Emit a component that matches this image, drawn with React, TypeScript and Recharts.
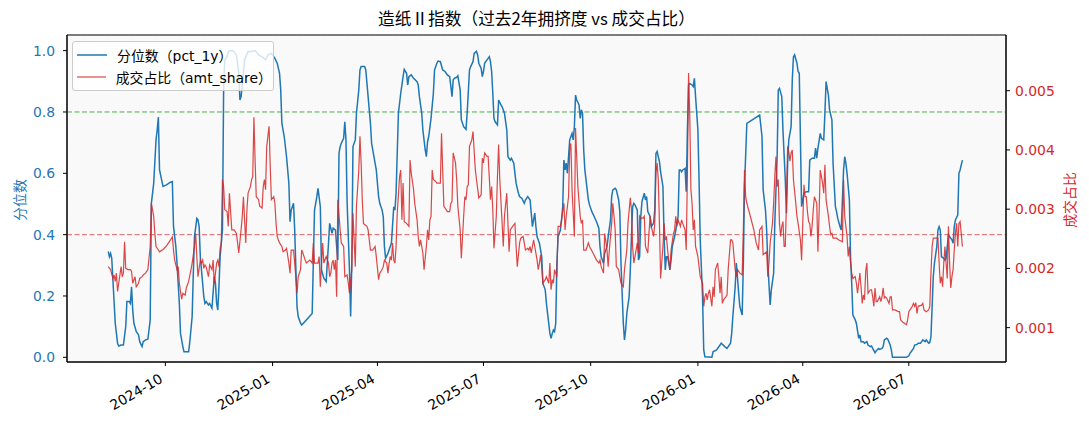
import React from 'react';
import {
  ComposedChart,
  Line,
  XAxis,
  YAxis,
  CartesianGrid,
  ReferenceLine,
  ReferenceArea,
  Legend,
} from 'recharts';

const START_DATE = '2024-08-13';
const DAY_MS = 86400000;
const startMs = Date.parse(START_DATE);

const xRangeDays = [-35.4, 770.4];
const monthTicks = [
  '2024-10-01', '2025-01-01', '2025-04-01', '2025-07-01',
  '2025-10-01', '2026-01-01', '2026-04-01', '2026-07-01',
];
const pctTicks = [0, 0.2, 0.4, 0.6, 0.8, 1.0];
const shareTicks = [0.001, 0.002, 0.003, 0.004, 0.005];
const pctRange = [-0.0153, 1.051];
const shareRange = [0.00042, 0.00594];
const crowdedLevel = 0.8;
const quietLevel = 0.4;

// [days since START_DATE, pct_1y]
const pct1y: [number, number][] = [
  [0, .345], [1, .328], [2, .339], [3, .323], [4, .252], [6, .111], [8, .046], [9, .037], [11, .04], [13, .04],
  [15, .1], [16, .182], [18, .182], [19, .176], [20, .23], [21, .154], [22, .111], [24, .084], [26, .073], [27, .051],
  [29, .035], [30, .051], [32, .057], [34, .059], [36, .122], [37, .502], [39, .567], [41, .709], [42, .741], [43, .783],
  [44, .611], [47, .557], [50, .562], [53, .57], [55, .573], [56, .426], [58, .361], [59, .307], [61, .176], [62, .078],
  [64, .035], [65, .018], [69, .018], [70, .051], [72, .133], [73, .274], [74, .393], [76, .453], [77, .448], [78, .426],
  [79, .328], [82, .198], [83, .176], [84, .182], [86, .171], [87, .176], [89, .16], [91, .263], [92, .241], [93, .176],
  [94, .154], [95, .23], [96, .328], [98, .415], [99, .872], [100, .97], [102, .98], [103, .997], [104, 1.0], [107, 1.0],
  [110, .986], [112, .926], [113, .839], [114, .85], [116, .926], [117, .97], [120, .997], [123, .997], [126, 1.0], [129, .986],
  [132, .98], [135, .97], [137, .986], [140, .991], [143, .975], [145, .959], [147, .926], [148, .872], [149, .763], [151, .72],
  [153, .654], [155, .567], [156, .442], [157, .48], [159, .502], [160, .415], [162, .165], [163, .133], [165, .111], [166, .105],
  [170, .122], [175, .143], [177, .48], [179, .524], [180, .551], [182, .491], [183, .285], [185, .258], [187, .247], [189, .372],
  [190, .437], [192, .404], [193, .421], [195, .415], [196, .361], [197, .317], [198, .665], [199, .687], [200, .698], [202, .714],
  [203, .768], [204, .709], [205, .502], [207, .285], [208, .133], [209, .307], [210, .687], [212, .709], [213, .796], [215, .872],
  [216, .937], [217, .948], [220, .948], [221, .937], [223, .85], [225, .763], [226, .698], [228, .654], [230, .611], [232, .524],
  [233, .502], [235, .48], [236, .459], [237, .361], [238, .323], [240, .339], [242, .361], [243, .372], [245, .491], [246, .48],
  [247, .535], [249, .796], [251, .861], [253, .915], [254, .939], [256, .926], [257, .888], [258, .915], [260, .921], [262, .91],
  [265, .899], [266, .888], [267, .85], [269, .796], [270, .741], [272, .676], [273, .654], [274, .703], [275, .72], [277, .779],
  [279, .861], [280, .937], [282, .959], [283, .966], [285, .964], [287, .937], [289, .932], [291, .921], [293, .915], [294, .883],
  [295, .85], [296, .904], [297, .91], [299, .913], [300, .918], [302, .872], [303, .774], [305, .752], [307, .743], [308, .796],
  [310, .937], [311, .948], [313, .964], [314, .991], [316, .998], [317, .986], [318, .959], [320, .942], [321, .915], [322, .932],
  [323, .959], [325, .97], [327, .98], [328, .964], [329, .932], [330, .861], [331, .779], [332, .768], [334, .758], [335, .839],
  [337, .823], [338, .817], [340, .796], [342, .741], [343, .654], [345, .643], [346, .649], [348, .633], [349, .6], [350, .567],
  [352, .535], [353, .524], [355, .518], [357, .502], [358, .513], [360, .524], [362, .513], [363, .47], [364, .426], [366, .47],
  [367, .426], [368, .393], [370, .372], [372, .328], [373, .241], [375, .22], [376, .176], [378, .111], [379, .078], [380, .062],
  [381, .078], [382, .089], [383, .084], [384, .111], [385, .307], [386, .393], [388, .415], [389, .448], [390, .491], [391, .643],
  [392, .611], [393, .633], [394, .6], [395, .654], [396, .709], [398, .73], [399, .709], [400, .752], [401, .855], [402, .839],
  [404, .823], [405, .779], [406, .807], [407, .796], [408, .676], [409, .611], [411, .546], [412, .513], [413, .497], [415, .475],
  [417, .459], [419, .442], [421, .421], [422, .361], [423, .328], [425, .307], [426, .339], [428, .361], [429, .393], [431, .448],
  [432, .524], [433, .546], [435, .551], [436, .546], [438, .513], [439, .475], [440, .307], [442, .111], [443, .057], [444, .089],
  [445, .143], [447, .198], [448, .285], [449, .393], [450, .491], [451, .502], [452, .497], [454, .48], [455, .317], [456, .328],
  [457, .459], [458, .508], [460, .535], [461, .513], [462, .524], [463, .475], [465, .459], [466, .426], [468, .437], [469, .48],
  [470, .665], [471, .671], [473, .638], [474, .605], [476, .557], [477, .393], [478, .285], [479, .328], [480, .328], [481, .307],
  [482, .285], [483, .317], [484, .361], [486, .393], [487, .415], [489, .459], [490, .611], [491, .611], [492, .605], [493, .611],
  [495, .616], [496, .54], [497, .741], [498, .888], [499, .893], [501, .888], [502, .883], [503, .91], [504, .85], [506, .741],
  [507, .578], [508, .383], [510, .198], [511, .024], [512, .002], [518, 0], [519, .018], [522, .024], [525, .04], [526, .046],
  [529, .035], [531, .029], [534, .046], [535, .078], [536, .133], [538, .23], [539, .307], [541, .209], [542, .165], [544, .138],
  [545, .307], [546, .557], [548, .763], [559, .79], [561, .72], [562, .546], [564, .48], [565, .415], [566, .307], [568, .171],
  [569, .22], [571, .274], [572, .437], [574, .654], [575, .872], [576, .877], [578, .85], [579, .741], [581, .578], [582, .47],
  [583, .633], [584, .709], [586, .752], [587, .904], [588, .98], [589, .986], [591, .959], [592, .932], [593, .926], [594, .709],
  [595, .491], [596, .513], [597, .535], [599, .54], [601, .54], [602, .643], [604, .649], [606, .649], [607, .682], [608, .649],
  [609, .682], [611, .73], [612, .714], [614, .709], [615, .796], [616, .899], [618, .855], [619, .807], [621, .774], [622, .633],
  [624, .491], [625, .475], [626, .453], [628, .426], [629, .415], [631, .611], [632, .654], [633, .633], [634, .6], [636, .513],
  [637, .328], [638, .241], [639, .138], [641, .122], [642, .111], [644, .062], [645, .073], [646, .051], [648, .051], [649, .046],
  [651, .051], [652, .04], [654, .035], [655, .037], [656, .029], [658, .015], [659, .021], [661, .029], [662, .026], [664, .029],
  [665, .035], [666, .057], [668, .062], [669, .059], [671, .04], [672, .024], [673, 0], [685, 0], [687, .005], [688, .013],
  [689, .018], [691, .029], [692, .04], [694, .042], [695, .046], [697, .046], [698, .051], [699, .057], [701, .051], [702, .057],
  [704, .046], [705, .048], [706, .067], [707, .165], [708, .263], [709, .307], [711, .361], [712, .415], [713, .426], [714, .415],
  [715, .328], [717, .323], [718, .317], [719, .323], [721, .399], [722, .393], [724, .383], [725, .372], [726, .426], [727, .448],
  [729, .464], [730, .6], [731, .611], [732, .627], [733, .643],
];

// [days since START_DATE, amt_share]
const amtShare: [number, number][] = [
  [0, .00203], [2, .00198], [4, .00183], [5, .00189], [6, .00178], [7, .00192], [8, .00161], [9, .00175], [11, .00203], [12, .00186],
  [13, .00192], [14, .00245], [15, .002], [17, .00198], [19, .00198], [20, .00195], [21, .00175], [23, .00186], [24, .00169], [26, .00175],
  [27, .00183], [29, .00186], [30, .00189], [32, .00192], [34, .00198], [36, .00237], [37, .0031], [39, .00288], [40, .00259], [41, .00237],
  [43, .00231], [44, .00228], [47, .00232], [50, .00238], [53, .00247], [55, .00253], [56, .00231], [57, .00214], [59, .00198], [60, .00203],
  [61, .00175], [63, .00148], [64, .00158], [66, .00155], [67, .00167], [69, .00178], [71, .00198], [72, .00209], [74, .00237], [75, .00259],
  [76, .0022], [77, .00186], [79, .00214], [80, .00209], [81, .00214], [82, .002], [83, .00206], [84, .00203], [86, .00186], [87, .00206],
  [89, .00198], [90, .00214], [91, .00175], [93, .00209], [94, .00214], [95, .00203], [96, .00234], [97, .00243], [98, .0035], [99, .00338],
  [100, .00299], [102, .00296], [103, .00271], [104, .00327], [106, .00265], [108, .00265], [110, .00259], [111, .00243], [112, .00226], [114, .00265],
  [115, .00288], [116, .00321], [118, .00243], [119, .00299], [120, .00327], [122, .00338], [123, .0035], [124, .00355], [125, .00455], [126, .00383],
  [127, .00321], [129, .00316], [130, .00305], [132, .00302], [133, .00338], [134, .0035], [135, .00333], [136, .00406], [137, .00423], [138, .0044],
  [139, .00372], [140, .00316], [142, .00321], [143, .0031], [144, .00276], [145, .00254], [146, .00248], [147, .00243], [149, .00237], [150, .00228],
  [152, .00231], [153, .00234], [155, .00209], [156, .00192], [157, .00231], [159, .00231], [160, .00209], [162, .00158], [163, .00186], [165, .00198],
  [166, .00231], [167, .00226], [169, .00214], [170, .00209], [173, .00214], [175, .00209], [176, .00243], [177, .00209], [180, .00209], [181, .0022],
  [182, .00169], [184, .00243], [185, .00209], [187, .0022], [189, .00209], [190, .00186], [191, .00192], [192, .00209], [193, .00214], [194, .00198],
  [195, .00214], [196, .00152], [197, .00316], [199, .00265], [200, .00243], [202, .00237], [203, .00186], [205, .00189], [206, .00175], [207, .00158],
  [209, .00198], [210, .00293], [212, .00203], [213, .00305], [215, .00366], [216, .00423], [217, .00378], [218, .00316], [219, .00276], [220, .00274],
  [222, .00271], [223, .00265], [225, .00231], [226, .00231], [227, .00231], [229, .00237], [230, .0022], [232, .00181], [233, .00192], [235, .00198],
  [236, .00203], [237, .00214], [239, .00209], [240, .00192], [241, .00209], [242, .0022], [243, .00214], [244, .00243], [245, .00214], [246, .00209],
  [247, .00237], [248, .00293], [250, .00355], [251, .00366], [252, .00282], [253, .00344], [254, .00279], [256, .00276], [258, .00271], [259, .00383],
  [260, .00361], [262, .00333], [263, .0031], [265, .00282], [266, .00254], [267, .00237], [268, .00248], [270, .00226], [271, .00198], [273, .00237],
  [274, .00265], [275, .00248], [276, .00282], [277, .00288], [278, .00366], [279, .0035], [281, .00347], [282, .00344], [285, .00344], [286, .00428],
  [288, .00305], [289, .00302], [291, .00296], [293, .00296], [294, .0031], [295, .00313], [296, .00395], [298, .00378], [299, .0035], [300, .00305],
  [302, .00265], [303, .00217], [305, .00288], [306, .00321], [307, .00316], [308, .00338], [309, .00341], [310, .00406], [312, .00417], [313, .00431],
  [315, .00366], [316, .0035], [318, .00319], [320, .00324], [321, .00386], [322, .00378], [323, .00395], [325, .00389], [326, .00389], [328, .00316],
  [329, .00338], [330, .00299], [331, .00234], [333, .00288], [334, .00355], [335, .00409], [336, .0035], [338, .00276], [339, .00237], [340, .00288],
  [342, .00327], [343, .00276], [344, .00228], [345, .00265], [347, .00271], [349, .00276], [350, .00237], [351, .00203], [353, .00243], [354, .00251],
  [356, .00254], [357, .00243], [358, .00231], [360, .00234], [361, .00231], [362, .00237], [363, .00226], [365, .00248], [366, .00237], [368, .00214],
  [369, .00198], [370, .00209], [371, .00223], [372, .00203], [373, .00175], [375, .00181], [376, .00186], [378, .00175], [379, .00209], [380, .00164],
  [381, .00181], [382, .00175], [383, .00198], [385, .00186], [386, .00271], [388, .00271], [389, .00282], [391, .0031], [392, .00265], [393, .00288],
  [395, .00321], [396, .004], [397, .00411], [398, .00333], [400, .00254], [401, .00437], [402, .00389], [403, .00338], [405, .00288], [406, .00276],
  [407, .00282], [408, .00231], [410, .00231], [412, .00243], [413, .00237], [416, .00226], [419, .00214], [421, .00209], [422, .00214], [423, .00203],
  [425, .00192], [426, .00259], [428, .00231], [429, .00203], [430, .00231], [432, .00276], [433, .0031], [434, .00288], [435, .00265], [436, .00203],
  [438, .00198], [439, .00186], [440, .00175], [442, .00169], [443, .00198], [445, .00231], [446, .00276], [448, .00319], [449, .00299], [450, .00237],
  [451, .00209], [452, .0022], [454, .00243], [455, .00226], [456, .00288], [457, .00285], [459, .00285], [460, .00288], [461, .00237], [463, .00226],
  [464, .00259], [465, .00288], [466, .00271], [468, .00254], [469, .00276], [470, .00361], [471, .00378], [472, .0035], [473, .00276], [474, .00183],
  [476, .00237], [477, .00276], [478, .00248], [479, .00254], [480, .00231], [481, .00214], [482, .00198], [483, .00231], [485, .00259], [486, .00265],
  [487, .00288], [488, .00271], [489, .00282], [491, .00271], [492, .00282], [493, .00276], [495, .00265], [496, .00231], [497, .00361], [498, .0053],
  [499, .00462], [500, .00333], [501, .0031], [502, .00265], [503, .00282], [504, .00237], [506, .0022], [507, .00203], [508, .00186], [510, .00175],
  [511, .00136], [512, .00152], [513, .00158], [514, .00147], [515, .00158], [516, .00164], [518, .00136], [519, .00169], [520, .00152], [521, .00198],
  [523, .00209], [524, .00186], [525, .00158], [526, .00186], [527, .00141], [528, .00147], [530, .00152], [531, .00155], [532, .00198], [534, .00248],
  [535, .00248], [536, .00243], [538, .00198], [539, .00186], [540, .00198], [542, .00192], [544, .00189], [545, .00265], [546, .00366], [547, .00321],
  [548, .0031], [551, .00288], [554, .00265], [556, .00243], [558, .00231], [559, .00265], [561, .00271], [562, .00223], [565, .00228], [566, .00186],
  [567, .00209], [568, .00243], [570, .00276], [571, .0031], [572, .00355], [573, .00389], [574, .00338], [575, .0035], [576, .00276], [577, .00254],
  [578, .00271], [579, .00279], [580, .00237], [581, .00237], [582, .0031], [583, .00406], [584, .00397], [585, .00381], [586, .00395], [587, .004],
  [588, .0035], [590, .0031], [591, .00288], [592, .00276], [594, .00248], [595, .00214], [596, .00276], [597, .00341], [598, .00321], [599, .00321],
  [600, .00296], [601, .00279], [602, .00276], [603, .00254], [604, .00271], [605, .00299], [606, .00321], [608, .0031], [609, .00228], [610, .00293],
  [611, .00366], [612, .00355], [613, .00344], [614, .00327], [615, .00375], [616, .00316], [618, .00288], [619, .00271], [620, .00257], [621, .00259],
  [622, .00251], [625, .00251], [627, .00248], [630, .00245], [631, .0035], [632, .00288], [634, .00254], [635, .0022], [636, .00237], [637, .00209],
  [638, .00192], [639, .00183], [641, .00186], [642, .00175], [643, .00158], [645, .00192], [646, .00169], [647, .00141], [648, .00155], [649, .00147],
  [650, .00195], [651, .00209], [652, .00158], [654, .00164], [655, .00164], [656, .00152], [657, .00136], [658, .00167], [659, .00144], [660, .00144],
  [662, .00152], [663, .00144], [664, .00152], [665, .00167], [666, .0015], [667, .00152], [668, .0015], [670, .00141], [671, .00152], [672, .00152],
  [673, .0013], [675, .0013], [678, .00127], [679, .00127], [680, .00113], [682, .00109], [685, .00105], [686, .00113], [687, .00127], [689, .00133],
  [690, .00136], [691, .00141], [692, .00136], [693, .00142], [694, .00124], [695, .00136], [698, .00138], [699, .00141], [700, .0013], [702, .00127],
  [704, .0013], [705, .00136], [706, .00192], [707, .00237], [708, .00251], [712, .00251], [713, .00209], [714, .00175], [715, .00186], [716, .00169],
  [717, .00209], [718, .00237], [719, .00209], [720, .00183], [721, .00271], [722, .00209], [723, .00167], [724, .00186], [725, .00198], [726, .00231],
  [727, .00259], [728, .00276], [729, .00237], [730, .00276], [731, .00279], [732, .00259], [733, .00237],
];

const BLUE = '#1f77b4';
const RED = '#d62728';
const GREEN = '#2ca02c';
const FONT = '"DejaVu Sans", "Noto Sans CJK SC", sans-serif';
const CJK_FONT = '"Noto Sans CJK SC", "DejaVu Sans", sans-serif';
const FS = 13.9;

const toMs = (d: number) => startMs + d * DAY_MS;
const pctData = pct1y.map(([d, v]) => ({ t: toMs(d), pct: v }));
const shareData = amtShare.map(([d, v]) => ({ t: toMs(d), share: v }));
const xDomain = [toMs(xRangeDays[0]), toMs(xRangeDays[1])];
const xTicks = monthTicks.map((m) => Date.parse(m));

function DateTick({ x, y, payload }: any) {
  const d = new Date(payload.value);
  const label = `${d.getUTCFullYear()}-${String(d.getUTCMonth() + 1).padStart(2, '0')}`;
  return (
    <g transform={`translate(${x - 1.6},${y + 13.6}) rotate(-30)`}>
      <text textAnchor="end" fontSize={FS} fontFamily={FONT} fill="#000">
        {label}
      </text>
    </g>
  );
}

function LegendBox() {
  const rows = [
    { label: '分位数（pct_1y）', color: BLUE, width: 1.5, opacity: 1 },
    { label: '成交占比（amt_share）', color: RED, width: 1.2, opacity: 0.85 },
  ];
  return (
    <div
      style={{
        background: 'rgba(255,255,255,0.8)',
        border: '1px solid #cccccc',
        borderRadius: 3,
        padding: '2px 8px 2px 4px',
        fontFamily: FONT,
        fontSize: FS,
        color: '#000',
      }}
    >
      {rows.map((r) => (
        <div key={r.label} style={{ display: 'flex', alignItems: 'center', height: 22 }}>
          <svg width={30} height={10} style={{ marginRight: 10 }}>
            <line x1={0} y1={5} x2={30} y2={5} stroke={r.color} strokeWidth={r.width} strokeOpacity={r.opacity} />
          </svg>
          <span>{r.label}</span>
        </div>
      ))}
    </div>
  );
}

export default function App() {
  return (
    <div style={{ position: 'absolute', left: 0, top: 0, width: 1089, height: 429, background: '#fff', fontFamily: FONT }}>
      <div
        style={{
          position: 'absolute',
          left: 0,
          top: 7,
          width: 1073,
          textAlign: 'center',
          fontSize: 16.7,
          lineHeight: '22px',
          fontFamily: CJK_FONT,
          color: '#000',
        }}
      >
        造纸Ⅱ指数（过去2年拥挤度 vs 成交占比）
      </div>
      <div
        style={{
          position: 'absolute',
          left: 19,
          top: 200,
          transform: 'translate(-50%, -50%) rotate(-90deg)',
          fontSize: FS,
          color: BLUE,
          whiteSpace: 'nowrap',
        }}
      >
        分位数
      </div>
      <div
        style={{
          position: 'absolute',
          left: 1069,
          top: 200,
          transform: 'translate(-50%, -50%) rotate(-90deg)',
          fontSize: FS,
          color: RED,
          whiteSpace: 'nowrap',
        }}
      >
        成交占比
      </div>
      <ComposedChart width={1089} height={429} margin={{ top: 35, right: 13, bottom: 7, left: 0 }}>
        <XAxis
          type="number"
          dataKey="t"
          domain={xDomain}
          ticks={xTicks}
          interval={0}
          allowDataOverflow
          tick={<DateTick />}
          tickSize={4}
          height={60}
          axisLine={{ stroke: '#000' }}
          tickLine={{ stroke: '#000' }}
        />
        <YAxis
          yAxisId="left"
          domain={pctRange}
          ticks={pctTicks}
          allowDataOverflow
          tickFormatter={(v: number) => v.toFixed(1)}
          width={67}
          tickSize={4}
          tickMargin={8}
          tick={{ fill: BLUE, fontSize: FS, fontFamily: FONT }}
          axisLine={{ stroke: '#000' }}
          tickLine={{ stroke: '#000' }}
        />
        <YAxis
          yAxisId="right"
          orientation="right"
          domain={shareRange}
          ticks={shareTicks}
          allowDataOverflow
          tickFormatter={(v: number) => v.toFixed(3)}
          width={70}
          tickSize={4}
          tickMargin={5}
          tick={{ fill: RED, fontSize: FS, fontFamily: FONT }}
          axisLine={{ stroke: '#000' }}
          tickLine={{ stroke: '#000' }}
        />
        <ReferenceArea
          yAxisId="left"
          x1={xDomain[0]}
          x2={xDomain[1]}
          y1={pctRange[0]}
          y2={pctRange[1]}
          fill="#f9f9f9"
          fillOpacity={1}
          stroke="#000"
          strokeWidth={1}
        />
        <CartesianGrid yAxisId="left" stroke="#c8c8c8" strokeDasharray="1 2" />
        <ReferenceLine yAxisId="left" y={crowdedLevel} stroke={GREEN} strokeOpacity={0.85} strokeDasharray="5 2.5" />
        <ReferenceLine yAxisId="left" y={quietLevel} stroke={RED} strokeOpacity={0.7} strokeDasharray="5 2.5" />
        <Line
          yAxisId="left"
          data={pctData}
          dataKey="pct"
          type="linear"
          stroke={BLUE}
          strokeWidth={1.5}
          dot={false}
          activeDot={false}
          isAnimationActive={false}
        />
        <Line
          yAxisId="right"
          data={shareData}
          dataKey="share"
          type="linear"
          stroke={RED}
          strokeOpacity={0.85}
          strokeWidth={1.2}
          dot={false}
          activeDot={false}
          isAnimationActive={false}
        />
        <Legend
          layout="vertical"
          align="center"
          verticalAlign="middle"
          wrapperStyle={{ left: 72, top: 41, width: 202, height: 50 }}
          content={() => <LegendBox />}
        />
      </ComposedChart>
    </div>
  );
}
